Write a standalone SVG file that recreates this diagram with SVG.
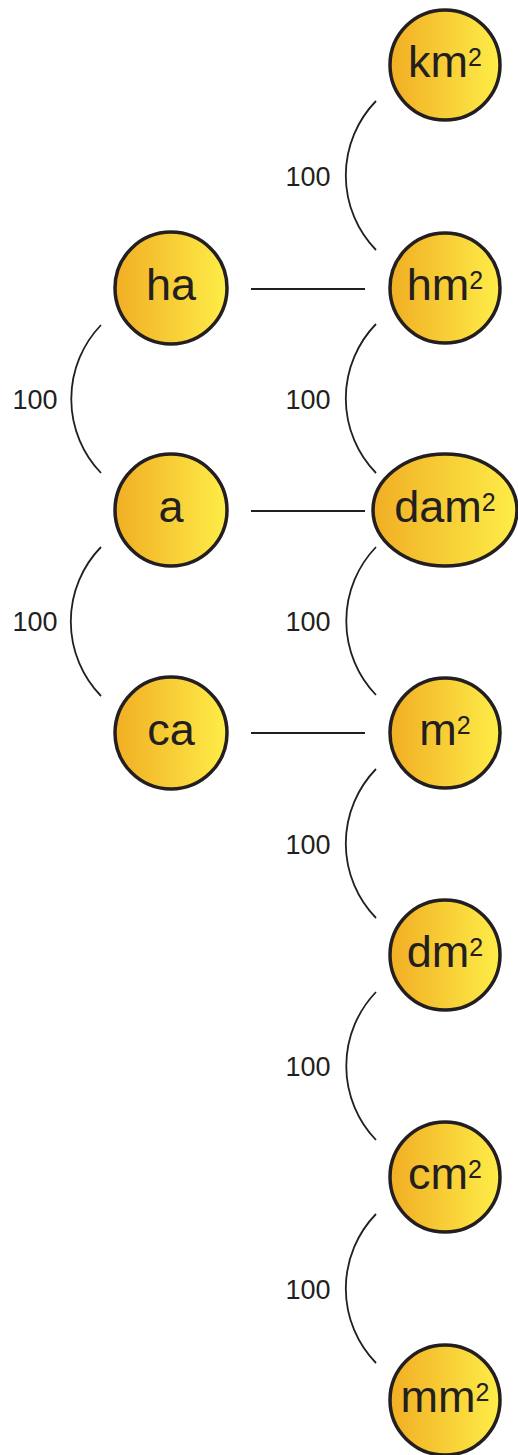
<svg xmlns="http://www.w3.org/2000/svg" width="518" height="1455" viewBox="0 0 518 1455">
<defs>
<linearGradient id="g" x1="0" y1="0" x2="1" y2="0">
<stop offset="0" stop-color="#f1ae24"/>
<stop offset="1" stop-color="#feed48"/>
</linearGradient>
<style>
.n{fill:url(#g);stroke:#231f20;stroke-width:3.5}
.t{font-family:"Liberation Sans",Arial,sans-serif;font-size:45px;fill:#231f20;text-anchor:middle}
.s{font-size:25px}
.c{fill:none;stroke:#231f20;stroke-width:1.8}
.l{font-family:"Liberation Sans",Arial,sans-serif;font-size:27px;fill:#231f20;text-anchor:middle}
</style>
</defs>
<rect width="518" height="1455" fill="#fff"/>
<g id="connectors">
<path class="c" d="M251,289H365M251,511H365M251,733H365"/>
<path class="c" d="M376,101A107,107 0 0 0 376,250M376,324A107,107 0 0 0 376,473M376,547A107,107 0 0 0 376,695M376,769A107,107 0 0 0 376,918M376,992A107,107 0 0 0 376,1140M376,1214A107,107 0 0 0 376,1363"/>
<path class="c" d="M101,325A107,107 0 0 0 101,473M101,547A107,107 0 0 0 101,696"/>
<text class="l" x="308" y="186">100</text>
<text class="l" x="308" y="409">100</text>
<text class="l" x="308" y="631">100</text>
<text class="l" x="308" y="854">100</text>
<text class="l" x="308" y="1076">100</text>
<text class="l" x="308" y="1299">100</text>
<text class="l" x="35" y="409">100</text>
<text class="l" x="35" y="631">100</text>
</g>
<g id="km2"><circle class="n" cx="445" cy="65" r="55"/><text class="t" x="445" y="77">km<tspan class="s" dy="-11">2</tspan></text></g>
<g id="hm2"><circle class="n" cx="445" cy="288" r="55"/><text class="t" x="445" y="300">hm<tspan class="s" dy="-11">2</tspan></text></g>
<g id="dam2"><ellipse class="n" cx="445" cy="510" rx="72" ry="56"/><text class="t" x="445" y="522">dam<tspan class="s" dy="-11">2</tspan></text></g>
<g id="m2"><circle class="n" cx="445" cy="733" r="55"/><text class="t" x="445" y="745">m<tspan class="s" dy="-11">2</tspan></text></g>
<g id="dm2"><circle class="n" cx="445" cy="955" r="55"/><text class="t" x="445" y="967">dm<tspan class="s" dy="-11">2</tspan></text></g>
<g id="cm2"><circle class="n" cx="445" cy="1177" r="55"/><text class="t" x="445" y="1189">cm<tspan class="s" dy="-11">2</tspan></text></g>
<g id="mm2"><circle class="n" cx="445" cy="1400" r="55"/><text class="t" x="445" y="1412">mm<tspan class="s" dy="-11">2</tspan></text></g>
<g id="ha"><circle class="n" cx="171" cy="288" r="56"/><text class="t" x="171" y="300">ha</text></g>
<g id="a"><circle class="n" cx="171" cy="510" r="56"/><text class="t" x="171" y="522">a</text></g>
<g id="ca"><circle class="n" cx="171" cy="733" r="56"/><text class="t" x="171" y="745">ca</text></g>
</svg>
